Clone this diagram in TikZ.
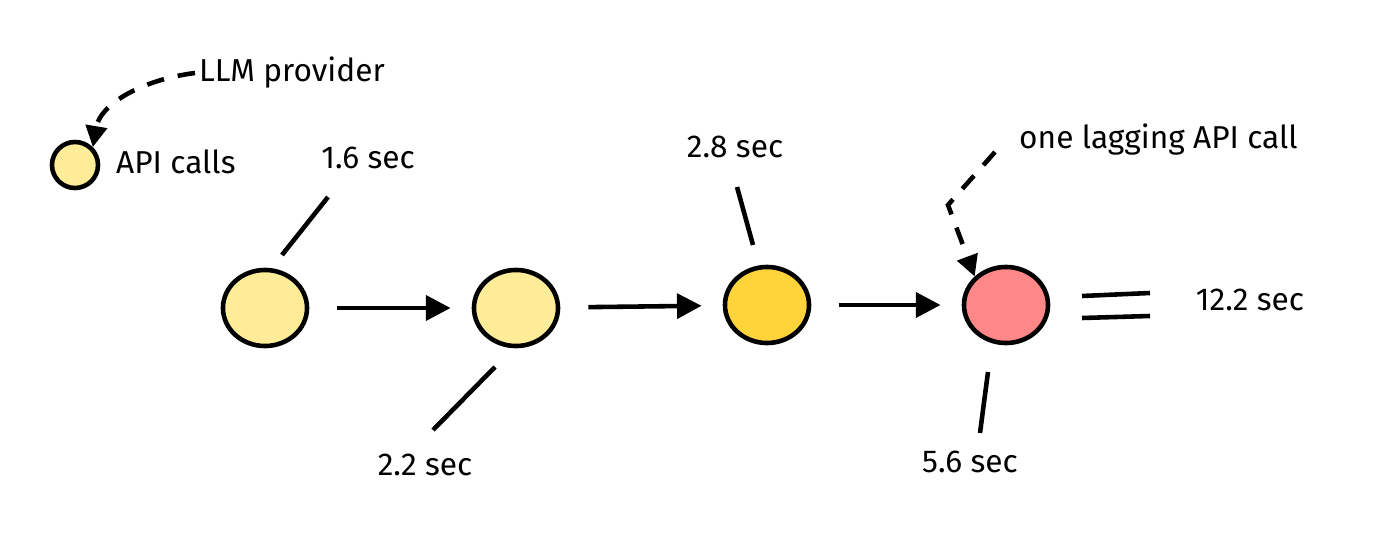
\documentclass[tikz,border=0pt]{standalone}
\usepackage{fontspec}
\setmainfont{Fira Sans}
\usetikzlibrary{arrows.meta,shapes.geometric}
\definecolor{callpale}{HTML}{FFEC99}
\definecolor{callgold}{HTML}{FFD43B}
\definecolor{callred}{HTML}{FF8787}
\tikzset{
	call/.style={ellipse, draw, line width=1.3pt, minimum width=0.84cm, minimum height=0.76cm, inner sep=0pt},
	flow/.style={line width=1.3pt, -{Triangle[length=7pt,width=7pt]}, shorten <=8pt, shorten >=6pt},
	hint/.style={line width=1.3pt, dash pattern=on 5pt off 4pt, -{Triangle[length=6pt,width=6pt]}},
	tick/.style={line width=1.3pt},
	label/.style={font=\fontsize{9}{10}\selectfont, inner sep=1pt}
}
\begin{document}
\begin{tikzpicture}[x=0.01cm, y=-0.01cm]
	\useasboundingbox (0,0) rectangle (1400,543);
	
	% Legend
	\node[call, fill=callpale, minimum width=0.46cm, minimum height=0.46cm] (legend) at (75,165) {};
	\node[label, anchor=west] (apicalls) at (112,162) {API calls};
	\node[label, anchor=west] (provider) at (195,73) {LLM provider};
	\draw[hint] (provider.west) .. controls (140,80) and (100,105) .. (legend.north east);
	
	% Calls
	\node[call, fill=callpale] (c1) at (265,308) {};
	\node[call, fill=callpale] (c2) at (516,308) {};
	\node[call, fill=callgold] (c3) at (767,305) {};
	\node[call, fill=callred] (c4) at (1006,305) {};
	
	\draw[flow] (c1) -- (c2);
	\draw[flow] (c2) -- (c3);
	\draw[flow] (c3) -- (c4);
	
	% Times
	\node[label] (t1) at (368,158) {1.6 sec};
	\node[label] (t2) at (425,465) {2.2 sec};
	\node[label] (t3) at (735,147) {2.8 sec};
	\node[label] (t4) at (970,462) {5.6 sec};
	\node[label] (total) at (1250,300) {12.2 sec};
	\draw[tick] (282,255) -- (328,197);
	\draw[tick] (433,430) -- (495,367);
	\draw[tick] (753,245) -- (737,187);
	\draw[tick] (980,433) -- (988,372);
	
	% Equals
	\draw[tick] (1082,296) -- (1150,293);
	\draw[tick] (1082,318) -- (1150,316);
	
	% Lagging call
	\node[label, anchor=west] (lagging) at (1015,140) {one lagging API call};
	\draw[hint] (995,152) -- (948,205) -- (c4.north west);
\end{tikzpicture}
\end{document}
